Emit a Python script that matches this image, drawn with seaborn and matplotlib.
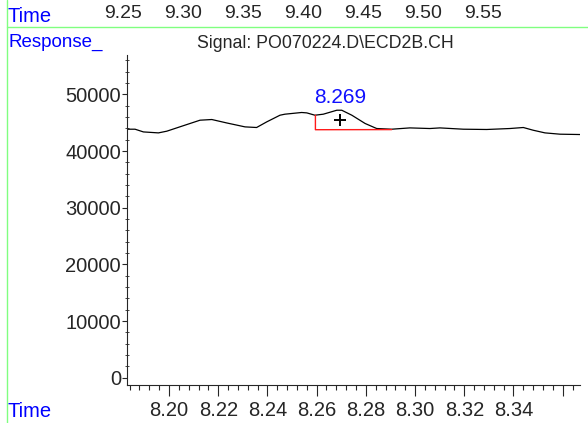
import matplotlib
matplotlib.use("Agg")
import matplotlib.pyplot as plt
from matplotlib.lines import Line2D
from matplotlib.ticker import MultipleLocator
import seaborn as sns
import pandas as pd

# chromatogram trace (minutes, response)
time_min = [8.1831, 8.1862, 8.1896, 8.1957, 8.1991, 8.2052, 8.2126, 8.2174, 8.2234,
            8.2309, 8.2356, 8.2397, 8.2451, 8.2471, 8.2539, 8.2560, 8.2593, 8.2627,
            8.2682, 8.2702, 8.2743, 8.2797, 8.2844, 8.2905, 8.2979, 8.3060, 8.3101,
            8.3196, 8.3291, 8.3385, 8.3440, 8.3480, 8.3528, 8.3589, 8.3670]
response = [43870, 43870, 43390, 43220, 43520, 44400, 45460, 45580, 44980,
            44280, 44170, 45160, 46340, 46520, 46820, 46750, 46340, 46520,
            47220, 47220, 46340, 44880, 43990, 43870, 44100, 43990, 44100,
            43870, 43820, 43990, 44170, 43690, 43220, 42990, 42930]

# integration baseline of the peak
base_t = [8.2595, 8.2595, 8.2905]
base_v = [46340, 43780, 43800]

peak_rt = 8.2695
peak_v = 45460
peak_label = "8.269"
label_v = 49500

x_ticks = [8.20, 8.22, 8.24, 8.26, 8.28, 8.30, 8.32, 8.34, 8.36]
x_ticklabels = ["8.20", "8.22", "8.24", "8.26", "8.28", "8.30", "8.32", "8.34", ""]
y_ticks = [0, 10000, 20000, 30000, 40000, 50000]

top_times = [9.25, 9.30, 9.35, 9.40, 9.45, 9.50, 9.55]

title = "Signal: PO070224.D\\ECD2B.CH"

sns.set_style("ticks")
plt.rcParams["font.family"] = ["Liberation Sans", "DejaVu Sans"]
plt.rcParams["font.size"] = 14

W, H = 588, 423
fig = plt.figure(figsize=(W / 100, H / 100), dpi=100)

# main plot area
ax = fig.add_axes([127.3 / W, (H - 384.7) / H, (580 - 127.3) / W, (384.7 - 55) / H])
df = pd.DataFrame({"t": time_min, "v": response})
sns.lineplot(data=df, x="t", y="v", ax=ax, color="black", lw=0.9)
ax.plot(base_t, base_v, color="#ff1a1a", lw=1.0)
ax.plot([peak_rt], [peak_v], marker="+", color="black", ms=8, mew=1.4, ls="none")
ax.text(peak_rt, label_v, peak_label, color="#1010ff", fontsize=15,
        ha="center", va="center")

ax.set_xlim(8.18305, 8.36703)
ax.set_ylim(-1235, 56970)
ax.set_xticks(x_ticks)
ax.set_xticklabels(x_ticklabels)
ax.xaxis.set_minor_locator(MultipleLocator(0.004))
ax.set_yticks(y_ticks)
ax.yaxis.set_minor_locator(MultipleLocator(2000))
ax.tick_params(axis="x", which="major", length=8, width=0.8, pad=4, labelsize=14.5)
ax.tick_params(axis="x", which="minor", length=3.6, width=0.8)
ax.tick_params(axis="y", which="major", length=3.5, width=0.8, pad=1, labelsize=14.5)
ax.tick_params(axis="y", which="minor", direction="inout", length=3, width=0.6)
ax.set_xlabel("")
ax.set_ylabel("")
for s in ["top", "right"]:
    ax.spines[s].set_visible(False)
for s in ["left", "bottom"]:
    ax.spines[s].set_linewidth(0.8)

# top strip with the second time scale
ax_top = fig.add_axes([7 / W, (H - 27.3) / H, (W - 7) / W, 27.3 / H])
ax_top.set_xlim(9.15308, 9.63725)
ax_top.set_ylim(0, 1)
ax_top.axis("off")
for t in top_times:
    ax_top.text(t, 0.5, f"{t:.2f}", transform=ax_top.get_xaxis_transform(),
                ha="center", va="center", fontsize=14)

fig.text(8 / W, 1 - 16.5 / H, "Time", color="#0000ff", fontsize=14.5, va="center", ha="left")
fig.text(8 / W, 1 - 42 / H, "Response_", color="#0000ff", fontsize=13.5, va="center", ha="left")
fig.text(8 / W, 1 - 411 / H, "Time", color="#0000ff", fontsize=14.5, va="center", ha="left")
fig.text(325 / W, 1 - 44 / H, title, fontsize=12.8, va="center", ha="center")

green = "#80ff80"
fig.add_artist(Line2D([7 / W, 7 / W], [0, 1], color=green, lw=1, transform=fig.transFigure))
fig.add_artist(Line2D([7 / W, 1], [1 - 27.3 / H, 1 - 27.3 / H], color=green, lw=1,
                      transform=fig.transFigure))

fig.savefig("out.png", dpi=100)
